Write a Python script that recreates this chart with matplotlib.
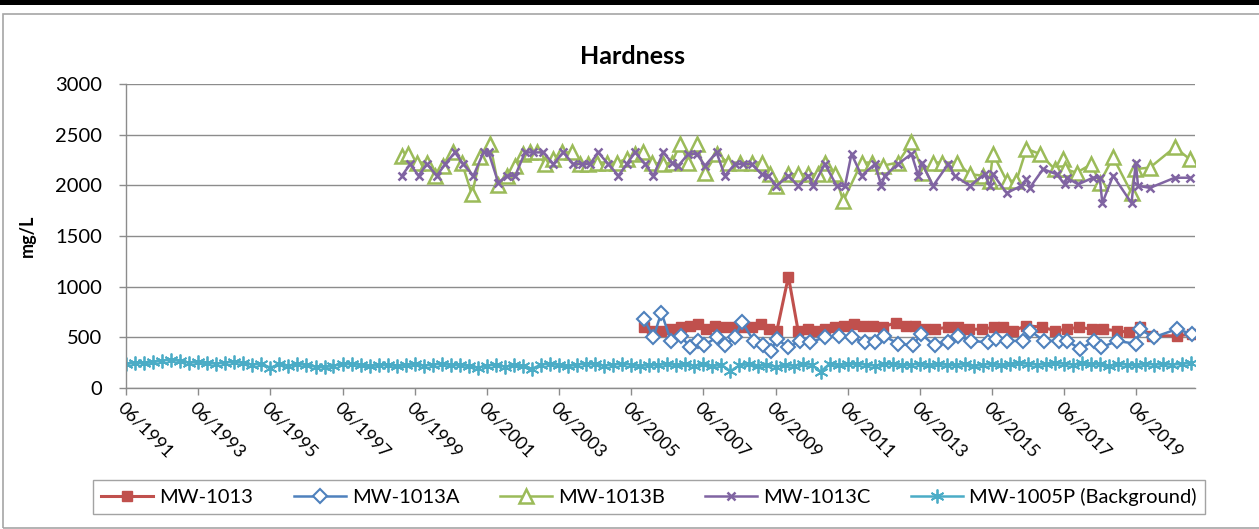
import numpy as np
import pandas as pd
import matplotlib
matplotlib.use("Agg")
import matplotlib.pyplot as plt
import matplotlib.dates as mdates
from matplotlib.patches import Rectangle
from datetime import datetime, timedelta

plt.rcParams['font.family'] = ['Lato', 'DejaVu Sans']

# MW-1013 (decimal year, mg/L)
mw1013_t = [2005.77, 2005.99, 2006.25, 2006.52, 2006.79, 2007.05, 2007.27, 2007.48, 2007.75, 2008.01,
            2008.28, 2008.54, 2008.76, 2009.02, 2009.24, 2009.45, 2009.77, 2010.04, 2010.30, 2010.52,
            2010.78, 2011.05, 2011.31, 2011.58, 2011.85, 2012.11, 2012.38, 2012.75, 2013.02, 2013.29,
            2013.55, 2013.82, 2014.19, 2014.46, 2014.78, 2015.15, 2015.47, 2015.73, 2016.00, 2016.37,
            2016.80, 2017.17, 2017.49, 2017.81, 2018.19, 2018.50, 2018.88, 2019.20, 2019.52, 2019.84,
            2020.53, 2020.95]
mw1013_v = [600, 565, 565, 580, 600, 615, 630, 580, 615, 600,
            600, 600, 600, 630, 580, 565, 1100, 565, 580, 565,
            580, 600, 615, 630, 615, 615, 600, 645, 615, 615,
            580, 580, 600, 600, 580, 580, 600, 600, 565, 615,
            600, 565, 580, 600, 580, 580, 565, 550, 600, 515,
            515, 530]

# MW-1013A
mw1013a_t = [2005.77, 2006.03, 2006.25, 2006.52, 2006.79, 2007.05, 2007.27, 2007.42, 2007.79, 2008.01,
             2008.28, 2008.49, 2008.81, 2009.07, 2009.29, 2009.45, 2009.77, 2010.09, 2010.36, 2010.78,
             2011.16, 2011.53, 2011.90, 2012.17, 2012.43, 2012.81, 2013.23, 2013.44, 2013.82, 2014.19,
             2014.46, 2014.83, 2015.31, 2015.52, 2015.84, 2016.27, 2016.48, 2016.85, 2017.28, 2017.49,
             2017.86, 2018.23, 2018.44, 2018.88, 2019.41, 2019.52, 2019.89, 2020.53, 2020.95]
mw1013a_v = [680, 500, 745, 460, 515, 400, 465, 420, 500, 420,
             500, 650, 465, 420, 370, 485, 400, 465, 450, 500,
             515, 500, 450, 450, 515, 435, 420, 535, 420, 450,
             515, 465, 450, 485, 465, 465, 565, 465, 465, 465,
             385, 465, 400, 465, 435, 580, 500, 580, 535]

# MW-1013B
mw1013b_t = [1999.06, 1999.24, 1999.47, 1999.75, 1999.98, 2000.21, 2000.49, 2000.72, 2001.00, 2001.23,
             2001.50, 2001.73, 2001.97, 2002.20, 2002.42, 2002.61, 2002.80, 2003.03, 2003.26, 2003.49,
             2003.77, 2004.00, 2004.23, 2004.46, 2004.74, 2005.01, 2005.29, 2005.52, 2005.75, 2005.98,
             2006.30, 2006.54, 2006.77, 2007.00, 2007.23, 2007.46, 2007.78, 2008.10, 2008.43, 2008.75,
             2009.03, 2009.26, 2009.44, 2009.77, 2010.04, 2010.32, 2010.60, 2010.78, 2011.06, 2011.29,
             2011.80, 2012.08, 2012.40, 2012.81, 2013.18, 2013.51, 2013.78, 2014.02, 2014.43, 2014.80,
             2015.17, 2015.35, 2015.44, 2015.82, 2016.09, 2016.37, 2016.74, 2017.15, 2017.38, 2017.43,
             2017.76, 2018.17, 2018.40, 2018.77, 2019.28, 2019.37, 2019.79, 2020.48, 2020.89]
mw1013b_v = [2290, 2310, 2225, 2225, 2095, 2195, 2325, 2225, 1910, 2275,
             2410, 2000, 2095, 2195, 2310, 2325, 2325, 2210, 2260, 2325,
             2325, 2210, 2210, 2225, 2225, 2225, 2260, 2310, 2325, 2225,
             2210, 2225, 2410, 2225, 2410, 2125, 2310, 2225, 2225, 2225,
             2225, 2110, 1995, 2110, 2110, 2110, 2110, 2225, 2110, 1845,
             2225, 2225, 2195, 2225, 2425, 2125, 2225, 2225, 2225, 2110,
             2095, 2045, 2310, 2045, 2045, 2360, 2310, 2160, 2260, 2160,
             2125, 2210, 2025, 2275, 1925, 2160, 2175, 2375, 2260]

# MW-1013C
mw1013c_t = [1999.06, 1999.29, 1999.52, 1999.75, 2000.03, 2000.26, 2000.53, 2000.76, 2001.04, 2001.32,
             2001.46, 2001.73, 2001.97, 2002.20, 2002.47, 2002.70, 2002.98, 2003.26, 2003.53, 2003.81,
             2004.04, 2004.27, 2004.50, 2004.78, 2005.06, 2005.29, 2005.52, 2005.80, 2006.03, 2006.30,
             2006.54, 2006.72, 2007.00, 2007.23, 2007.46, 2007.78, 2008.01, 2008.29, 2008.52, 2008.75,
             2009.03, 2009.21, 2009.44, 2009.77, 2010.04, 2010.32, 2010.46, 2010.78, 2011.11, 2011.34,
             2011.52, 2011.80, 2012.17, 2012.35, 2012.44, 2012.81, 2013.18, 2013.37, 2013.46, 2013.78,
             2014.20, 2014.38, 2014.80, 2015.21, 2015.35, 2015.44, 2015.82, 2016.23, 2016.37, 2016.46,
             2016.83, 2017.20, 2017.43, 2017.48, 2017.80, 2018.21, 2018.40, 2018.47, 2018.77, 2019.28,
             2019.40, 2019.46, 2019.79, 2020.48, 2020.89]
mw1013c_v = [2095, 2210, 2095, 2210, 2095, 2210, 2325, 2210, 2095, 2325,
             2325, 2025, 2095, 2095, 2325, 2325, 2325, 2210, 2325, 2210,
             2210, 2210, 2325, 2210, 2095, 2210, 2325, 2210, 2095, 2325,
             2225, 2195, 2310, 2310, 2195, 2325, 2095, 2210, 2210, 2210,
             2110, 2095, 1995, 2095, 1995, 2095, 1995, 2210, 1995, 1995,
             2310, 2095, 2210, 1995, 2095, 2210, 2310, 2095, 2225, 1995,
             2210, 2095, 1995, 2110, 1995, 2110, 1925, 1995, 2060, 1975,
             2160, 2110, 2010, 2075, 2010, 2075, 2075, 1825, 2095, 1825,
             2225, 1995, 1975, 2075, 2075]

# MW-1005P (Background), quarterly from 06/1991
bg_start = '1991-06-01'
bg_v = [235, 250, 245, 255, 270, 280, 265, 250, 255, 245,
        240, 250, 260, 245, 230, 240, 200, 235, 215, 240,
        225, 210, 205, 220, 235, 240, 225, 215, 225, 230,
        215, 225, 235, 220, 230, 240, 225, 230, 215, 200,
        220, 230, 210, 225, 215, 190, 230, 240, 225, 215,
        230, 240, 235, 220, 230, 240, 230, 215, 230, 225,
        240, 225, 235, 220, 235, 215, 230, 165, 225, 235,
        215, 230, 210, 225, 220, 235, 230, 160, 240, 225,
        235, 240, 230, 220, 235, 240, 225, 230, 240, 225,
        235, 230, 225, 240, 215, 230, 240, 225, 235, 245,
        240, 230, 235, 245, 240, 230, 245, 235, 235, 215,
        240, 230, 225, 240, 230, 235, 230, 240, 245]

names = ['MW-1013', 'MW-1013A', 'MW-1013B', 'MW-1013C', 'MW-1005P (Background)']
colors = ['#C0504D', '#4F81BD', '#9BBB59', '#8064A2', '#4BACC6']


def to_date(y):
    yr = int(y)
    return datetime(yr, 1, 1) + timedelta(days=(y - yr) * 365.25)


bg_t = pd.date_range(bg_start, periods=len(bg_v), freq='3MS')

fig = plt.figure(figsize=(12.59, 5.29), dpi=100)
ax = fig.add_axes([126 / 1259, 1 - 388 / 529, (1195 - 126) / 1259, (388 - 84) / 529])

ax.plot([to_date(t) for t in mw1013_t], mw1013_v, color=colors[0], lw=2.2,
        marker='s', ms=7, mec=colors[0], mfc=colors[0], label=names[0])
ax.plot([to_date(t) for t in mw1013a_t], mw1013a_v, color=colors[1], lw=1.8,
        marker='D', ms=7, mec=colors[1], mfc='white', mew=1.5, label=names[1])
ax.plot([to_date(t) for t in mw1013b_t], mw1013b_v, color=colors[2], lw=1.8,
        marker='^', ms=10, mec=colors[2], mfc='white', mew=1.8, label=names[2])
ax.plot([to_date(t) for t in mw1013c_t], mw1013c_v, color=colors[3], lw=1.8,
        marker='x', ms=6, mec=colors[3], mew=1.8, label=names[3])
ax.plot(bg_t, bg_v, color=colors[4], lw=1.8,
        marker=(6, 2, 0), ms=10, mec=colors[4], mew=1.3, label=names[4])

ax.set_ylim(0, 3000)
ax.set_yticks(np.arange(0, 3001, 500))
ax.set_xlim(datetime(1991, 6, 1), datetime(2021, 1, 15))
ax.set_xticks([datetime(y, 6, 1) for y in range(1991, 2020, 2)])
ax.xaxis.set_major_formatter(mdates.DateFormatter('%m/%Y'))

ax.grid(axis='y', color='#8c8c8c', lw=1)
ax.set_axisbelow(True)
for s in ['top', 'right']:
    ax.spines[s].set_visible(False)
for s in ['left', 'bottom']:
    ax.spines[s].set_color('#8c8c8c')
    ax.spines[s].set_linewidth(1)
ax.tick_params(axis='both', colors='#8c8c8c', length=5, width=1, labelcolor='black')
ax.tick_params(axis='y', labelsize=14.5, pad=12)
ax.tick_params(axis='x', labelsize=13)
for lab in ax.get_xticklabels():
    lab.set_rotation(-45)
    lab.set_ha('left')
    lab.set_va('top')
    lab.set_rotation_mode('anchor')

ax.set_ylabel('mg/L', fontsize=13, fontweight='bold', labelpad=14)
fig.text(632 / 1259, 1 - 56 / 529, 'Hardness', ha='center', va='center',
         fontsize=18, fontweight='bold')

leg = fig.legend(loc='lower left', bbox_to_anchor=(93 / 1259, 1 - 514 / 529, 1112 / 1259, 44 / 529),
                 mode='expand', ncol=5, fontsize=14.5, handlelength=2.6, numpoints=1,
                 fancybox=False, borderaxespad=0, handletextpad=0.3, frameon=True)
leg.get_frame().set_edgecolor('#8c8c8c')
leg.get_frame().set_linewidth(1)

# chart border and top bar
fig.patches.append(Rectangle((3 / 1259, 0.002), 1.0, 1 - 14 / 529 - 0.002, transform=fig.transFigure,
                             fill=False, edgecolor='#a6a6a6', lw=1.2))
fig.patches.append(Rectangle((0, 1 - 5 / 529), 1, 5 / 529, transform=fig.transFigure,
                             facecolor='black', edgecolor='none'))

fig.savefig('out.png', dpi=100)
